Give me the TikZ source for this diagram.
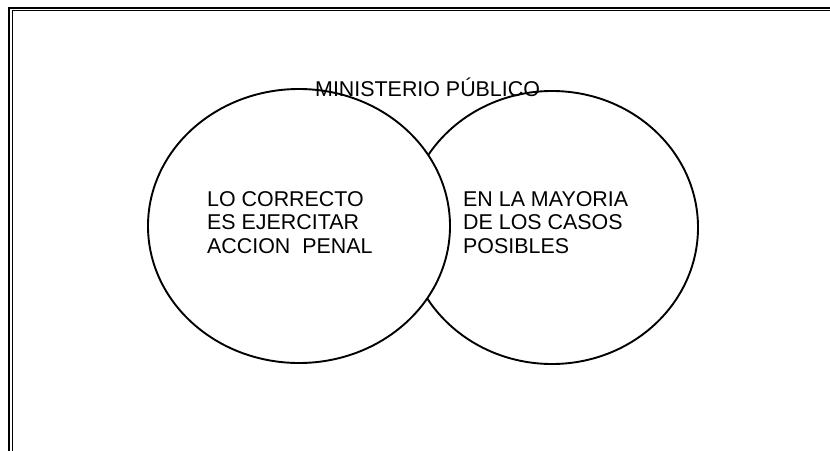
\documentclass[tikz,border=0pt]{standalone}
\usepackage{fontspec}
\setmainfont{Liberation Sans}
\usetikzlibrary{shapes.geometric}
\begin{document}
\begin{tikzpicture}[x=1pt,y=-1pt,
  ring/.style={ellipse, draw=black, line width=1.9pt, inner sep=0pt},
  lbl/.style={inner sep=0pt, font=\fontsize{21.4}{23.5}\selectfont, align=left, anchor=north west},
  title/.style={inner sep=0pt, font=\fontsize{21.4}{23.5}\selectfont, anchor=base west}]
\useasboundingbox (0,0) rectangle (830,450);
\clip (0,0) rectangle (830,450);
\fill[white] (0,0) rectangle (830,450);
% double frame
\draw[line width=2.2pt] (9,7.8) rectangle (845,465);
\draw[line width=1.2pt] (12.3,10.6) rectangle (845,465);
% circles
\node[ring, minimum width=292pt, minimum height=273pt] (right) at (552,227.5) {};
\node[ring, fill=white, minimum width=302pt, minimum height=274pt] (left) at (299,226) {};
% texts
\node[title] (mp) at (315,96.5) {MINISTERIO PÚBLICO};
\node[lbl] (lt) at (207,191) {LO CORRECTO\\ES EJERCITAR\\ACCION\ \ PENAL};
\node[lbl] (rt) at (463,191) {EN LA MAYORIA\\DE LOS CASOS\\POSIBLES};
\end{tikzpicture}
\end{document}
